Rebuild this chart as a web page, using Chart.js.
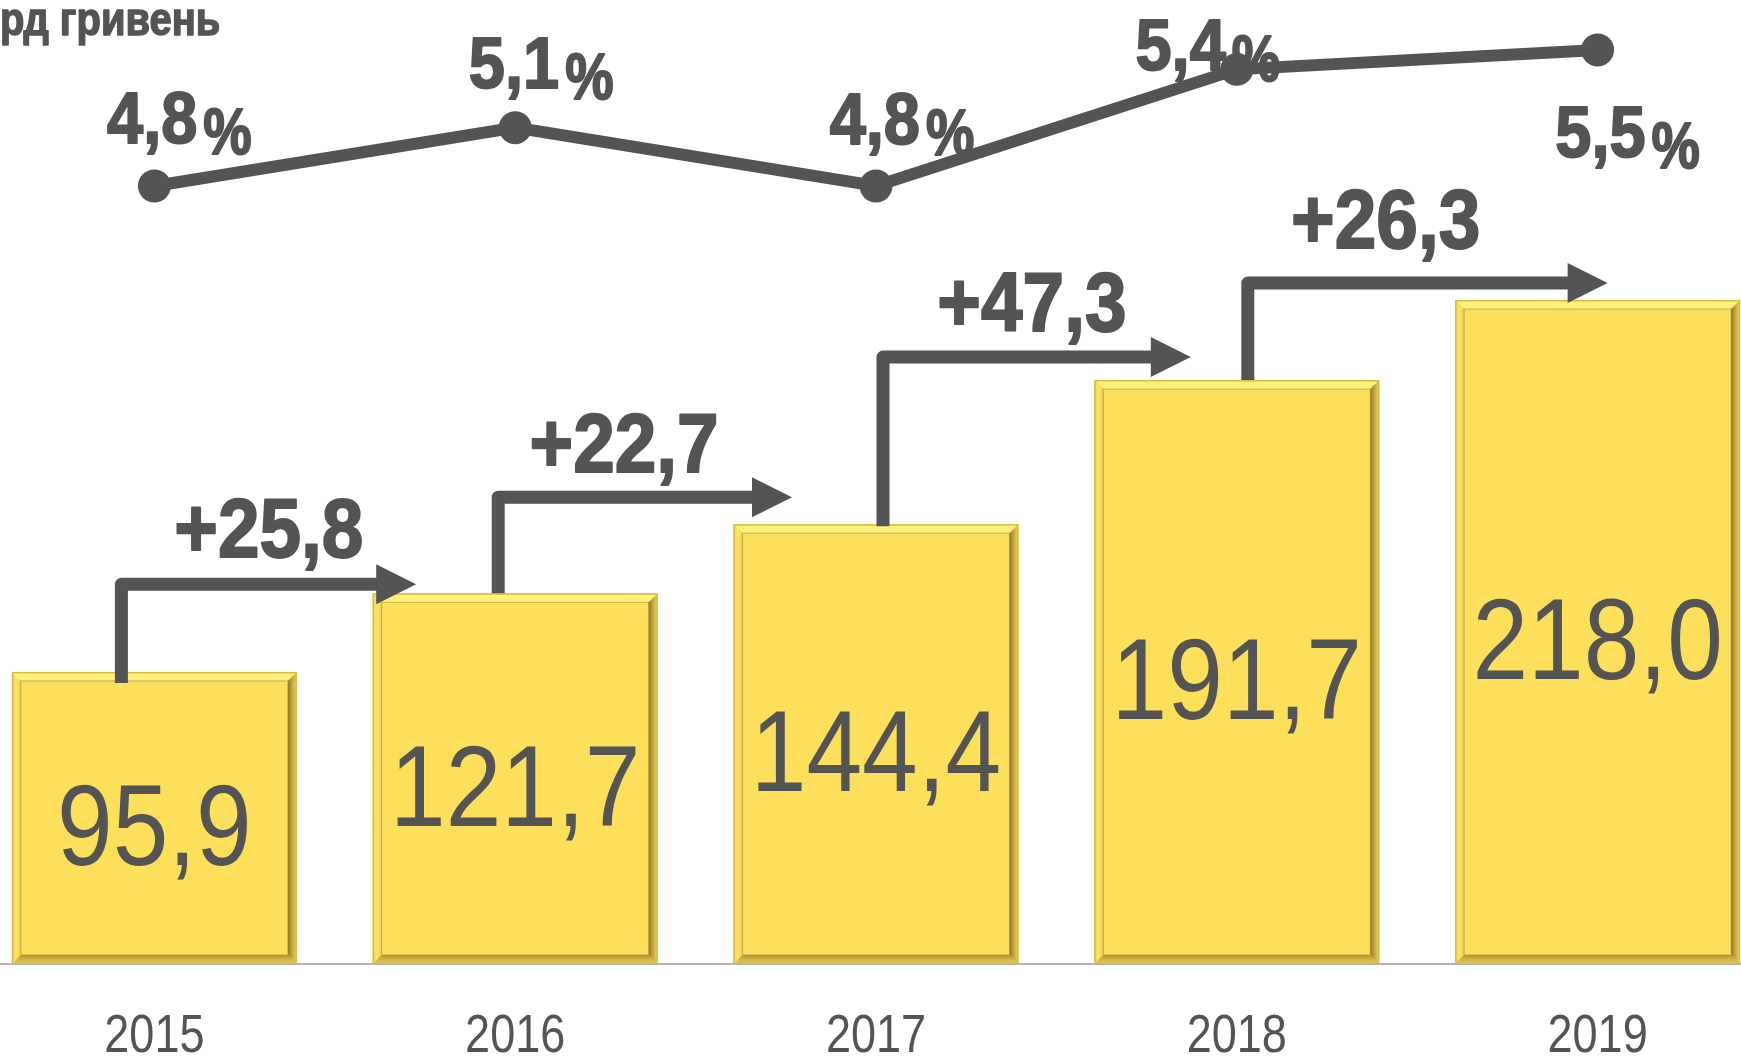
<!DOCTYPE html>
<html lang="uk">

<head>
    <meta charset="UTF-8">
    <title>Обсяг, млрд гривень</title>
    <script src="https://cdn.jsdelivr.net/npm/chart.js"></script>
    <style>
        html, body { margin: 0; padding: 0; width: 1741px; height: 1058px; overflow: hidden; background: #fff; }
        /* the chart is a little wider than the window: its first column starts off-screen */
        .chart-box { position: absolute; left: -26px; top: 0; width: 1804px; height: 1058px; }
    </style>
</head>

<body>
    <div class="chart-box">
        <canvas id="growthChart" width="1804" height="1058"></canvas>
    </div>

    <script>
        // dades
        const years = ['2015', '2016', '2017', '2018', '2019'];
        const volumes = [95.9, 121.7, 144.4, 191.7, 218.0];   // млрд грн
        const shares = [4.8, 5.1, 4.8, 5.4, 5.5];              // %
        const unitsTitle = 'рд гривень';

        const GREY = '#545454';
        const FONT = '"Liberation Sans", Arial, sans-serif';

        // placement tweaks for the hand-drawn annotations (pixels)
        const arrowShift = [-33, -17, 7, 11];   // vertical stroke vs. bar centre
        const arrowDrop = [11, 0, 2, 0];        // how far the stroke goes into the bar
        const arrowGap = [9, 27, 23, 17];       // horizontal stroke above next bar
        const arrowTip = [-99, -84, -46, 10];   // tip vs. next bar centre
        const deltaShift = [0, -21, -5, -42];
        const deltaRise = [57, 55, 56, 65];
        const shareDx = [25, 26, 26, -29, 30];
        const shareDy = [-69, -66, -68, -26, 81];

        const fmt = v => v.toFixed(1).replace('.', ',');

        // no narrow face installed, so squeeze the text horizontally
        function squeezed(ctx, text, x, y, font, sx, align, heavy) {
            ctx.save();
            ctx.font = font;
            ctx.textBaseline = 'alphabetic';
            ctx.textAlign = align || 'center';
            ctx.translate(x, y);
            ctx.scale(sx, 1);
            ctx.fillText(text, 0, 0);
            if (heavy) {
                ctx.lineWidth = heavy;
                ctx.lineJoin = 'round';
                ctx.strokeStyle = ctx.fillStyle;
                ctx.strokeText(text, 0, 0);
            }
            ctx.restore();
        }

        // bevelled yellow bars + value inside
        const bevelPlugin = {
            id: 'bevel',
            afterDatasetDraw(chart, args) {
                if (args.index !== 0) return;
                const ctx = chart.ctx;
                const bw = 9;
                args.meta.data.forEach((bar, i) => {
                    const { x, y, base, width } = bar.getProps(['x', 'y', 'base', 'width'], true);
                    const l = x - width / 2, r = x + width / 2, t = y, b = base;
                    ctx.save();
                    // top
                    ctx.fillStyle = '#fff27c';
                    ctx.beginPath();
                    ctx.moveTo(l, t); ctx.lineTo(r, t); ctx.lineTo(r - bw, t + bw); ctx.lineTo(l + bw, t + bw);
                    ctx.closePath(); ctx.fill();
                    // left
                    let g = ctx.createLinearGradient(l, 0, l + bw, 0);
                    g.addColorStop(0, '#f3d657'); g.addColorStop(0.5, '#fbe46a'); g.addColorStop(1, '#e9cd52');
                    ctx.fillStyle = g;
                    ctx.beginPath();
                    ctx.moveTo(l, t); ctx.lineTo(l + bw, t + bw); ctx.lineTo(l + bw, b - bw); ctx.lineTo(l, b);
                    ctx.closePath(); ctx.fill();
                    // right
                    g = ctx.createLinearGradient(r - bw, 0, r, 0);
                    g.addColorStop(0, '#8f7a2e'); g.addColorStop(0.45, '#c2a53f'); g.addColorStop(1, '#f2d75a');
                    ctx.fillStyle = g;
                    ctx.beginPath();
                    ctx.moveTo(r, t); ctx.lineTo(r, b); ctx.lineTo(r - bw, b - bw); ctx.lineTo(r - bw, t + bw);
                    ctx.closePath(); ctx.fill();
                    // bottom
                    g = ctx.createLinearGradient(0, b - bw, 0, b);
                    g.addColorStop(0, '#b39a38'); g.addColorStop(1, '#ecd054');
                    ctx.fillStyle = g;
                    ctx.beginPath();
                    ctx.moveTo(l, b); ctx.lineTo(r, b); ctx.lineTo(r - bw, b - bw); ctx.lineTo(l + bw, b - bw);
                    ctx.closePath(); ctx.fill();
                    // outline
                    ctx.strokeStyle = '#d8bb45';
                    ctx.lineWidth = 1.5;
                    ctx.strokeRect(l + 0.75, t + 0.75, width - 1.5, b - t - 1.5);
                    ctx.strokeStyle = 'rgba(150,125,40,0.5)';
                    ctx.lineWidth = 1;
                    ctx.strokeRect(l + bw, t + bw, width - 2 * bw, b - t - 2 * bw);
                    ctx.restore();

                    // value
                    ctx.fillStyle = GREY;
                    squeezed(ctx, fmt(volumes[i]), x, (t + b) / 2 + 6 + 0.358 * 115, '115px ' + FONT, 0.87);
                });
            }
        };

        // step arrows with the yearly increase, year labels
        const arrowsPlugin = {
            id: 'arrows',
            afterDatasetsDraw(chart) {
                const ctx = chart.ctx;
                const bars = chart.getDatasetMeta(0).data;
                ctx.save();
                ctx.strokeStyle = GREY;
                ctx.fillStyle = GREY;
                for (let i = 0; i < bars.length - 1; i++) {
                    const vx = bars[i].x + arrowShift[i];
                    const hy = bars[i + 1].y - arrowGap[i];
                    const tip = bars[i + 1].x + arrowTip[i];
                    ctx.lineWidth = 13;
                    ctx.lineJoin = 'round';
                    ctx.lineCap = 'butt';
                    ctx.beginPath();
                    ctx.moveTo(vx, bars[i].y + arrowDrop[i]);
                    ctx.lineTo(vx, hy);
                    ctx.lineTo(tip - 36, hy);
                    ctx.stroke();
                    ctx.beginPath();
                    ctx.moveTo(tip, hy);
                    ctx.lineTo(tip - 40, hy - 20);
                    ctx.lineTo(tip - 40, hy + 20);
                    ctx.closePath();
                    ctx.fill();

                    const delta = volumes[i + 1] - volumes[i];
                    squeezed(ctx, '+' + fmt(delta), (vx + tip) / 2 + deltaShift[i],
                        hy - deltaRise[i] + 0.358 * 84, 'bold 84px ' + FONT, 0.89, 'center', 2);
                }

                const xs = chart.scales.x;
                years.forEach((yr, i) => {
                    squeezed(ctx, yr, xs.getPixelForValue(i), 1052, '53px ' + FONT, 0.85);
                });
                ctx.restore();
            }
        };

        // percentage labels + units caption
        const sharesPlugin = {
            id: 'shares',
            beforeDatasetsDraw(chart) {
                const ctx = chart.ctx;
                const pts = chart.getDatasetMeta(1).data;
                ctx.save();
                ctx.fillStyle = GREY;
                const numFont = 'bold 73px ' + FONT;
                const pctFont = 'bold 64px ' + FONT;
                pts.forEach((p, i) => {
                    const num = fmt(shares[i]);
                    ctx.font = numFont;
                    const wNum = ctx.measureText(num).width * 0.89;
                    ctx.font = pctFont;
                    const wPct = ctx.measureText('%').width * 0.85;
                    const gap = 6;
                    const left = p.x + shareDx[i] - (wNum + gap + wPct) / 2;
                    const base = p.y + shareDy[i] + 0.358 * 73;
                    squeezed(ctx, num, left, base, numFont, 0.89, 'left', 2);
                    squeezed(ctx, '%', left + wNum + gap, base + 11, pctFont, 0.85, 'left', 2);
                });
                squeezed(ctx, unitsTitle, 26, 35, 'bold 47px ' + FONT, 0.85, 'left', 1.5);
                ctx.restore();
            }
        };

        const ctx = document.getElementById('growthChart').getContext('2d');
        new Chart(ctx, {
            type: 'bar',
            data: {
                labels: years,
                datasets: [{
                    label: 'млрд грн',
                    data: volumes,
                    backgroundColor: '#fcdf5b',
                    borderWidth: 0,
                    barPercentage: 0.79,
                    categoryPercentage: 1
                }, {
                    type: 'line',
                    label: '%',
                    data: shares,
                    yAxisID: 'y1',
                    borderColor: GREY,
                    borderWidth: 12,
                    pointRadius: 16.5,
                    pointHoverRadius: 16.5,
                    pointBackgroundColor: GREY,
                    pointBorderWidth: 0,
                    tension: 0,
                    clip: false
                }]
            },
            options: {
                responsive: false,
                animation: false,
                events: [],
                layout: { padding: 0, autoPadding: false },
                plugins: {
                    legend: { display: false },
                    tooltip: { enabled: false }
                },
                scales: {
                    x: {
                        grid: { display: false, drawTicks: false },
                        border: { display: true, color: '#b3b3b3', width: 2 },
                        ticks: { display: false },
                        afterFit: s => { s.height = 94; }
                    },
                    y: { display: false, min: 0, max: 316.5 },
                    y1: { display: false, min: 0.796, max: 5.757 }
                }
            },
            plugins: [bevelPlugin, arrowsPlugin, sharesPlugin]
        });
    </script>
</body>

</html>
